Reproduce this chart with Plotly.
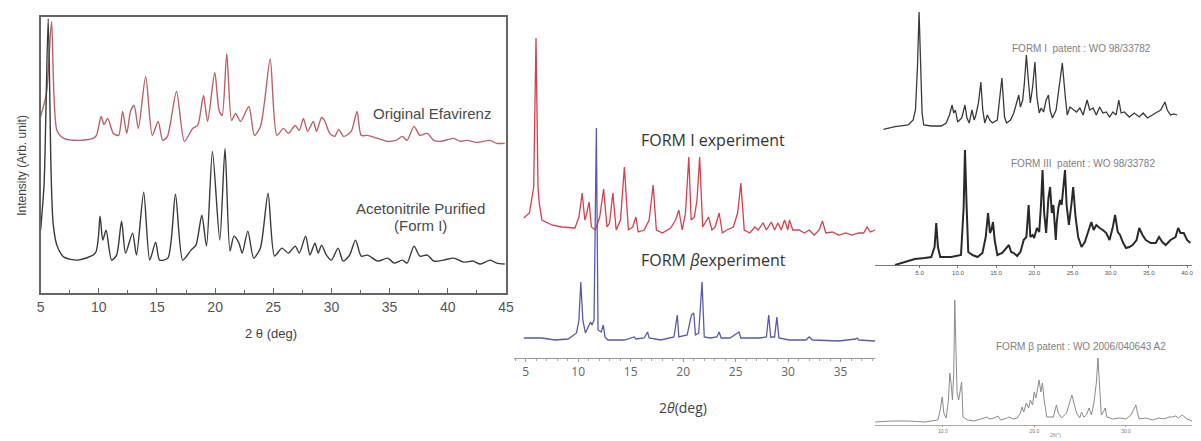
import plotly.graph_objects as go

W, H = 1201, 441

# ---------------- Panel 1 : Original Efavirenz vs Acetonitrile purified ----------------
p1_orig_x = [5.0, 5.5, 5.94, 6.4, 7.0, 8.3, 9.5, 9.8, 10.2, 10.45, 10.77, 11.25, 11.7, 12.05, 12.4, 12.75,
             13.04, 13.4, 14.03, 14.6, 15.1, 15.5, 15.9, 16.68, 17.36, 18.07, 18.5, 19.0, 19.35, 19.97,
             20.34, 20.6, 21.0, 21.42, 21.76, 22.19, 22.9, 23.38, 23.9, 24.23, 24.74, 25.31, 25.88, 26.3,
             26.88, 27.24, 27.59, 27.95, 28.44, 28.72, 29.15, 29.4, 29.86, 30.28, 30.63, 31.05, 31.7, 32.2,
             32.56, 33.1, 33.98, 34.83, 35.54, 36.1, 36.5, 37.1, 37.6, 38.24, 38.8, 39.38, 40.5, 41.08,
             41.65, 42.5, 43.64, 44.2, 44.9]
p1_orig_y = [177, 200, 272, 163, 155, 153, 155, 158, 177, 169, 175, 160, 158, 182, 160, 183,
             188, 165, 217, 158, 172, 153, 157, 202, 152, 165, 168, 198, 172, 221,
             183, 178, 240, 173, 180, 172, 187, 158, 167, 190, 235, 158, 165, 160,
             168, 163, 175, 162, 172, 162, 176, 173, 160, 157, 164, 157, 162, 182,
             158, 158, 155, 152, 153, 157, 153, 167, 158, 160, 153, 152, 155, 152,
             153, 151, 153, 150, 150]

p1_acn_x = [5.0, 5.3, 5.65, 5.9, 6.08, 6.42, 7.0, 8.2, 9.7, 10.11, 10.34, 10.63, 11.1, 11.53, 11.96, 12.3,
            12.9, 13.24, 13.86, 14.38, 14.89, 15.23, 15.94, 16.59, 17.22, 17.93, 18.35, 18.86, 19.26,
            19.77, 20.4, 20.85, 21.28, 21.62, 22.05, 22.33, 22.81, 23.32, 23.89, 24.55, 25.11, 25.74,
            26.3, 26.88, 27.24, 27.78, 28.15, 28.58, 28.86, 29.15, 29.57, 30.0, 30.57, 31.0, 31.56, 32.07,
            32.56, 33.1, 33.98, 34.83, 35.4, 36.1, 36.5, 37.1, 37.6, 38.24, 38.8, 39.66, 40.5, 41.36,
            42.2, 42.78, 43.64, 44.2, 44.9]
p1_acn_y = [63, 110, 275, 120, 69, 47, 36, 33, 40, 77, 53, 63, 33, 38, 72, 40,
            60, 38, 101, 33, 51, 33, 35, 99, 33, 43, 48, 78, 47,
            142, 53, 145, 42, 57, 50, 40, 62, 35, 45, 100, 37, 45,
            40, 47, 40, 57, 38, 50, 40, 48, 38, 33, 45, 32, 38, 53,
            37, 38, 32, 35, 30, 33, 30, 47, 37, 38, 32, 33, 35, 31,
            32, 29, 33, 30, 29]

# ---------------- Panel 2 : FORM I / FORM beta experiment ----------------
p2_form1_x = [4.81, 5.35, 5.76, 5.98, 6.17, 6.29, 6.54, 7.49, 8.43, 9.69, 10.07, 10.38, 10.63, 10.82, 11.04,
              11.26, 11.64, 12.05, 12.42, 12.74, 12.99, 13.30, 13.62, 14.03, 14.40, 14.78, 15.19, 15.50,
              15.72, 16.29, 16.76, 17.14, 17.45, 18.02, 18.81, 19.28, 19.59, 19.91, 20.22, 20.54, 20.76,
              21.07, 21.32, 21.57, 21.86, 22.11, 22.42, 22.74, 23.05, 23.43, 23.74, 24.15, 24.78, 25.19,
              25.50, 25.82, 26.35, 26.83, 27.14, 27.61, 27.93, 28.40, 28.71, 29.03, 29.34, 29.66, 29.97,
              30.13, 30.44, 31.07, 31.54, 32.01, 32.49, 32.96, 33.27, 33.59, 34.22, 34.84, 35.47, 36.10,
              36.73, 37.20, 37.52, 37.83, 38.30]
p2_form1_y = [140, 145, 171, 320, 171, 155, 138, 133, 131, 130, 141, 165, 138, 145, 156,
              131, 128, 141, 169, 131, 135, 165, 128, 138, 191, 128, 131, 141,
              126, 128, 138, 173, 128, 125, 130, 138, 148, 128, 145, 201, 138,
              141, 158, 201, 131, 135, 141, 128, 131, 145, 125, 128, 131, 145,
              175, 128, 125, 131, 128, 135, 128, 136, 128, 135, 128, 138, 128,
              138, 128, 128, 125, 128, 123, 128, 137, 125, 126, 123, 125, 123,
              125, 125, 131, 126, 128]

p2_beta_x = [4.81, 6.54, 7.80, 9.06, 9.84, 10.07, 10.25, 10.44, 10.69, 10.94, 11.17, 11.32, 11.51, 11.73,
             11.89, 12.20, 12.39, 12.55, 12.83, 14.40, 15.19, 15.35, 15.50, 16.29, 16.61, 16.76, 17.86,
             19.12, 19.44, 19.59, 20.38, 20.79, 21.01, 21.17, 21.48, 21.80, 22.01, 22.58, 23.21, 23.43,
             23.62, 24.47, 25.32, 25.50, 27.30, 27.93, 28.15, 28.34, 28.71, 28.93, 29.12, 30.13, 31.70,
             32.01, 32.33, 34.84, 36.42, 36.58, 36.73, 38.30]
p2_beta_y = [20, 20, 18, 19, 25, 38, 76, 38, 25, 30, 36, 33, 38, 230,
             28, 26, 33, 21, 18, 18, 20, 21, 19, 20, 26, 20, 18,
             21, 43, 21, 23, 43, 45, 23, 25, 76, 21, 20, 21, 26,
             20, 20, 26, 20, 20, 21, 43, 21, 21, 41, 20, 18, 18,
             21, 18, 17, 19, 20, 18, 17]
p2_ticks = [5, 10, 15, 20, 25, 30, 35]

# ---------------- Panel 3 : patent patterns ----------------
p3_form1_x = [1.41, 2.91, 4.63, 5.27, 5.57, 5.83, 6.04, 6.26, 6.43, 6.64, 7.63, 8.92, 9.56, 9.99, 10.33,
              10.55, 10.76, 11.06, 11.58, 12.01, 12.26, 12.56, 12.91, 13.21, 13.42, 13.76, 14.07, 14.32,
              14.58, 14.92, 15.22, 15.57, 16.21, 16.81, 17.15, 17.41, 17.93, 18.35, 18.78, 19.00, 19.21,
              19.51, 19.73, 19.99, 20.24, 20.50, 20.80, 21.10, 21.36, 21.66, 21.92, 22.22, 22.56, 22.86,
              23.07, 23.37, 23.85, 24.27, 24.66, 25.05, 25.30, 25.65, 26.08, 26.51, 26.94, 27.36, 27.88,
              28.22, 28.65, 29.08, 29.51, 29.94, 30.37, 30.80, 31.23, 31.65, 32.00, 32.30, 32.73, 33.37,
              34.01, 34.66, 35.17, 35.73, 36.37, 37.02, 37.45, 38.00, 38.30, 38.73, 39.16, 39.59]
p3_form1_y = [10.7, 13.3, 15, 20, 30, 73, 128, 73, 27, 15, 14, 14, 17, 25, 35,
              27, 30, 18, 22, 35, 22, 17, 30, 20, 25, 37, 58, 30,
              17, 25, 20, 17, 20, 62, 23, 17, 20, 27, 40, 45, 33,
              40, 57, 85, 60, 37, 53, 78, 43, 27, 32, 28, 40, 45,
              30, 22, 30, 53, 77, 43, 25, 33, 30, 28, 32, 25, 40,
              30, 32, 25, 33, 27, 28, 23, 28, 25, 40, 27, 28, 23,
              27, 23, 27, 22, 25, 28, 30, 38, 30, 25, 26, 25]

p3_form3_x = [1.76, 3.06, 4.35, 5.65, 6.51, 6.94, 7.16, 7.38, 7.68, 9.11, 10.40, 10.75, 10.92, 11.14, 11.35,
              11.91, 12.56, 13.21, 13.64, 13.94, 14.20, 14.38, 14.59, 14.81, 15.16, 15.80, 16.45, 16.67,
              16.97, 17.32, 17.75, 18.18, 18.61, 18.96, 19.26, 19.48, 19.78, 19.98, 20.34, 20.64, 20.86,
              21.08, 21.29, 21.55, 21.85, 22.07, 22.29, 22.50, 22.81, 22.93, 23.15, 23.37, 23.58, 23.80,
              24.02, 24.23, 24.53, 24.88, 25.09, 25.40, 25.74, 26.18, 26.61, 27.04, 27.47, 27.77, 28.12,
              28.55, 28.98, 29.42, 29.85, 30.28, 30.58, 30.93, 31.23, 31.58, 32.01, 32.44, 32.87, 33.39,
              33.74, 34.17, 34.60, 35.25, 35.90, 36.33, 36.76, 37.20, 37.84, 38.49, 38.84, 39.14, 39.57,
              40.00, 40.43]
p3_form3_y = [0, 3, 6, 7, 8, 18, 42, 18, 8, 8, 10, 58, 115, 58, 13,
              10, 8, 12, 28, 52, 32, 35, 43, 25, 10, 12, 18, 20,
              13, 12, 9, 13, 25, 28, 60, 28, 30, 27, 37, 33, 58,
              95, 52, 32, 67, 78, 52, 60, 25, 42, 57, 65, 60, 78,
              95, 60, 40, 62, 78, 48, 28, 18, 23, 33, 43, 35, 40,
              37, 35, 32, 25, 38, 50, 33, 30, 23, 17, 18, 20, 25,
              37, 30, 25, 22, 22, 28, 23, 20, 25, 28, 37, 32, 32,
              25, 22]
p3_form3_ticks = [5, 10, 15, 20, 25, 30, 35, 40]
p3_form3_ticktext = ["5.0", "10.0", "15.0", "20.0", "25.0", "30.0", "35.0", "40.0"]

p3_beta_x = [2.61, 4.41, 6.22, 8.02, 9.46, 9.71, 9.93, 10.11, 10.36, 10.61, 10.76, 10.90, 11.05, 11.19,
             11.30, 11.41, 11.55, 11.73, 11.91, 12.05, 12.20, 12.70, 13.42, 14.14, 14.87, 15.05, 15.59,
             16.02, 16.31, 17.03, 17.21, 17.75, 18.11, 18.47, 18.65, 18.83, 19.12, 19.37, 19.55, 19.80,
             19.98, 20.16, 20.34, 20.52, 20.70, 20.88, 21.06, 21.35, 22.07, 22.40, 22.61, 22.97, 23.51,
             23.87, 24.09, 24.31, 24.60, 24.95, 25.14, 25.39, 25.68, 25.96, 26.22, 26.50, 26.76, 26.94,
             27.12, 27.30, 27.48, 27.73, 27.91, 28.20, 28.56, 29.28, 30.00, 30.54, 30.90, 31.08, 31.26,
             31.44, 32.16, 32.88, 33.60, 34.14, 34.69, 35.05, 35.41, 35.77, 36.13, 36.67, 37.21]
p3_beta_y = [3, 4, 4, 3, 5, 15, 28, 12, 7, 25, 52, 42, 25, 52,
             125, 75, 32, 25, 35, 43, 8, 5, 4, 6, 8, 6, 7,
             9, 5, 7, 8, 6, 7, 12, 18, 13, 22, 17, 25, 20,
             33, 27, 38, 45, 33, 42, 25, 8, 8, 20, 12, 7, 12,
             25, 30, 22, 12, 7, 13, 8, 10, 17, 10, 22, 42, 67,
             32, 10, 12, 17, 8, 7, 6, 7, 6, 10, 17, 20, 12,
             6, 7, 5, 7, 6, 8, 8, 9, 7, 10, 6, 4]
p3_beta_ticks = [10, 20, 30]
p3_beta_ticktext = ["10.0", "20.0", "30.0"]


def fx(px):
    return px / W


def fy(py):
    return 1 - py / H


fig = go.Figure()

# panel 1
fig.add_trace(go.Scatter(x=p1_orig_x, y=p1_orig_y, mode="lines", xaxis="x", yaxis="y",
                         line=dict(color="#b8636b", width=1.4, shape="spline", smoothing=0.7),
                         showlegend=False))
fig.add_trace(go.Scatter(x=p1_acn_x, y=p1_acn_y, mode="lines", xaxis="x", yaxis="y",
                         line=dict(color="#3a3a3a", width=1.4, shape="spline", smoothing=0.7),
                         showlegend=False))
# panel 2
fig.add_trace(go.Scatter(x=p2_form1_x, y=p2_form1_y, mode="lines", xaxis="x2", yaxis="y2",
                         line=dict(color="#d2414f", width=1.3), showlegend=False))
fig.add_trace(go.Scatter(x=p2_beta_x, y=p2_beta_y, mode="lines", xaxis="x2", yaxis="y2",
                         line=dict(color="#5a5aa8", width=1.3), showlegend=False))
# panel 3
fig.add_trace(go.Scatter(x=p3_form1_x, y=p3_form1_y, mode="lines", xaxis="x3", yaxis="y3",
                         line=dict(color="#3a3a3a", width=1.3), showlegend=False))
fig.add_trace(go.Scatter(x=p3_form3_x, y=p3_form3_y, mode="lines", xaxis="x4", yaxis="y4",
                         line=dict(color="#2a2a2a", width=2.0), showlegend=False))
fig.add_trace(go.Scatter(x=p3_beta_x, y=p3_beta_y, mode="lines", xaxis="x5", yaxis="y5",
                         line=dict(color="#8a8a8a", width=1.0), showlegend=False))

tickfont1 = dict(family="Arial, Liberation Sans, sans-serif", size=14, color="#555555")

fig.update_layout(
    width=W, height=H, margin=dict(l=0, r=0, t=0, b=0),
    paper_bgcolor="white", plot_bgcolor="white",
    xaxis=dict(domain=[fx(37), fx(507)], range=[5, 45], anchor="y",
               tickvals=[5, 10, 15, 20, 25, 30, 35, 40, 45], ticks="inside", ticklen=5,
               tickcolor="#666", showline=True, linecolor="#666", linewidth=1.5, mirror=True,
               minor=dict(dtick=2.5, ticks="inside", ticklen=3, tickcolor="#666"),
               showgrid=False, zeroline=False, tickfont=tickfont1),
    yaxis=dict(domain=[fy(293), fy(17)], range=[0, 276.7], anchor="x",
               showticklabels=False, ticks="", showline=True, linecolor="#666", linewidth=1.5,
               mirror=True, showgrid=False, zeroline=False),
    xaxis2=dict(domain=[fx(515), fx(885)], range=[3.87, 38.77], anchor="y2",
                tickvals=p2_ticks, ticks="outside", ticklen=3, tickcolor="#999",
                minor=dict(dtick=1, ticks="outside", ticklen=2, tickcolor="#aaa"),
                showline=True, linecolor="#999", linewidth=1, showgrid=False, zeroline=False,
                tickfont=dict(family="Open Sans, sans-serif", size=12, color="#666")),
    yaxis2=dict(domain=[fy(358), fy(20)], range=[0, 338], anchor="x2", visible=False),
    xaxis3=dict(domain=[fx(880), fx(1200)], range=[0.337, 41.52], anchor="y3", visible=False),
    yaxis3=dict(domain=[fy(140), fy(0)], range=[0, 140], anchor="x3", visible=False),
    xaxis4=dict(domain=[fx(880), fx(1200)], range=[-0.834, 40.65], anchor="y4",
                tickvals=p3_form3_ticks, ticktext=p3_form3_ticktext, ticks="outside", ticklen=2,
                tickcolor="#777", showline=True, linecolor="#777", linewidth=1, showgrid=False,
                zeroline=False, tickfont=dict(family="Arial, sans-serif", size=6, color="#555")),
    yaxis4=dict(domain=[fy(265), fy(140)], range=[0, 125], anchor="x4", visible=False),
    xaxis5=dict(domain=[fx(880), fx(1200)], range=[2.613, 37.21], anchor="y5",
                tickvals=p3_beta_ticks, ticktext=p3_beta_ticktext, ticks="outside", ticklen=1,
                tickcolor="#999", showline=True, linecolor="#aaa", linewidth=1, showgrid=False,
                zeroline=False, tickfont=dict(family="Arial, sans-serif", size=5, color="#777")),
    yaxis5=dict(domain=[fy(425), fy(290)], range=[0, 135], anchor="x5", visible=False),
)

annots = [
    dict(text="Original Efavirenz", x=fx(432), y=fy(113), size=15, color="#4a4a4a",
         family="Arial, Liberation Sans, sans-serif"),
    dict(text="Acetonitrile Purified", x=fx(421), y=fy(208), size=15, color="#4a4a4a",
         family="Arial, Liberation Sans, sans-serif"),
    dict(text="(Form I)", x=fx(421), y=fy(225), size=15, color="#4a4a4a",
         family="Arial, Liberation Sans, sans-serif"),
    dict(text="2 θ (deg)", x=fx(270), y=fy(333), size=13, color="#444",
         family="Arial, Liberation Sans, sans-serif"),
    dict(text="FORM I experiment", x=fx(716), y=fy(140), size=16, color="#333",
         family="Open Sans, sans-serif"),
    dict(text="FORM <i>β</i>experiment", x=fx(717), y=fy(260), size=16, color="#333",
         family="Open Sans, sans-serif"),
    dict(text="2<i>θ</i>(deg)", x=fx(686), y=fy(407), size=14, color="#444",
         family="Open Sans, sans-serif"),
    dict(text="FORM I  patent : WO 98/33782", x=fx(1088), y=fy(48), size=10, color="#808080",
         family="Arial, sans-serif"),
    dict(text="FORM III  patent : WO 98/33782", x=fx(1090), y=fy(163), size=10, color="#808080",
         family="Arial, sans-serif"),
    dict(text="FORM β patent : WO 2006/040643 A2", x=fx(1088), y=fy(346), size=10, color="#808080",
         family="Arial, sans-serif"),
    dict(text="2θ(°)", x=fx(1062), y=fy(440), size=5, color="#888", family="Arial, sans-serif",
         yanchor="bottom"),
]
for a in annots:
    fig.add_annotation(text=a["text"], x=a["x"], y=a["y"], xref="paper", yref="paper",
                       showarrow=False, xanchor="center", yanchor=a.get("yanchor", "middle"),
                       font=dict(size=a["size"], color=a["color"], family=a["family"]))

fig.add_annotation(text="Intensity (Arb. unit)", x=fx(18), y=fy(165), xref="paper", yref="paper",
                   showarrow=False, textangle=-90, xanchor="center", yanchor="middle",
                   font=dict(size=12, color="#444", family="Arial, Liberation Sans, sans-serif"))

fig.write_html("out.html", config={"displayModeBar": False},
               post_script="document.body.style.margin='0';document.body.style.overflow='hidden';")
